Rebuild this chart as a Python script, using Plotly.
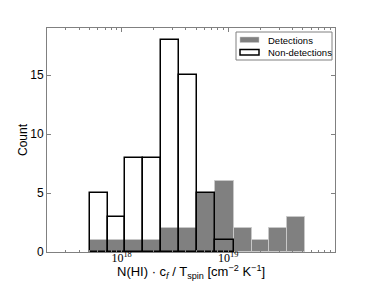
import numpy as np
import plotly.graph_objects as go

# bin edges (log10 of N(HI)*cf/Tspin)
bin_edges_log = [17.70, 17.87, 18.03, 18.20, 18.37, 18.54, 18.71, 18.88, 19.05, 19.22, 19.38, 19.55, 19.72]
detections = [1, 1, 1, 1, 2, 2, 5, 6, 2, 1, 2, 3]
non_detections = [5, 3, 8, 8, 18, 15, 5, 1, 0, 0, 0, 0]
major_tick_vals = [18, 19]
major_tick_text = ["10<sup>18</sup>", "10<sup>19</sup>"]
series_names = ["Detections", "Non-detections"]

edges = np.array(bin_edges_log)
centers = (edges[:-1] + edges[1:]) / 2
widths = np.diff(edges)

minor_vals = [np.log10(m) + d for d in (17, 18, 19) for m in range(2, 10)]
minor_vals = [v for v in minor_vals if 17.30 < v < 20.0]

GRAY = "rgb(128,128,128)"
GRAY_EDGE = "rgb(200,200,200)"
FRAME = "rgb(128,128,128)"

fig = go.Figure()
fig.add_trace(go.Bar(
    x=centers, y=[v if v > 0 else None for v in detections], width=widths, name=series_names[0],
    marker=dict(color=GRAY, line=dict(color=GRAY_EDGE, width=1)),
))
fig.add_trace(go.Bar(
    x=centers, y=[v if v > 0 else None for v in non_detections], width=widths, name=series_names[1],
    marker=dict(color="rgba(255,255,255,0)", line=dict(color="black", width=1.5)),
))

axis_common = dict(
    showline=True, mirror="ticks", linecolor=FRAME, linewidth=1, automargin=False,
    ticks="inside", tickcolor=FRAME, showgrid=False, zeroline=False,
)

# plot area geometry in px (for paper-coord conversion of legend elements)
L, R, T, B, W, H = 47, 39, 28, 31, 374, 283
pw, ph = W - L - R, H - T - B
px = lambda x: (x - L) / pw
py = lambda y: (H - B - y) / ph

shapes = [
    dict(type="rect", xref="paper", yref="paper", x0=px(236), x1=px(332), y0=py(60), y1=py(32),
         line=dict(color=FRAME, width=1), fillcolor="white", layer="above"),
    dict(type="rect", xref="paper", yref="paper", x0=px(240), x1=px(259), y0=py(42.5), y1=py(37),
         line=dict(color=GRAY_EDGE, width=0.5), fillcolor=GRAY, layer="above"),
    dict(type="rect", xref="paper", yref="paper", x0=px(240), x1=px(259), y0=py(55), y1=py(49.5),
         line=dict(color="black", width=1.5), fillcolor="white", layer="above"),
]
annotations = [
    dict(text=series_names[0], xref="paper", yref="paper", x=px(265.5), y=py(40), xanchor="left",
         yanchor="middle", showarrow=False, font=dict(size=9.5)),
    dict(text=series_names[1], xref="paper", yref="paper", x=px(265.5), y=py(52.5), xanchor="left",
         yanchor="middle", showarrow=False, font=dict(size=9.5)),
    dict(text="N(HI) · c<sub><i>f</i></sub> / T<sub>spin</sub> [cm<sup>−2</sup> K<sup>−1</sup>]",
         xref="paper", yref="paper", x=px(191), y=py(272), xanchor="center", yanchor="middle",
         showarrow=False, font=dict(size=13)),
]

fig.update_layout(
    width=W, height=H, autosize=False,
    margin=dict(l=L, r=R, t=T, b=B, pad=0, autoexpand=False),
    paper_bgcolor="white", plot_bgcolor="white",
    barmode="overlay", bargap=0,
    font=dict(family="Liberation Sans, Arial, sans-serif", size=12, color="black"),
    showlegend=False,
    shapes=shapes, annotations=annotations,
    xaxis=dict(
        range=[np.log10(2e17), 20.0],
        tickvals=major_tick_vals, ticktext=major_tick_text, ticklen=4,
        ticklabelstandoff=-5,
        tickfont=dict(family="Liberation Serif, DejaVu Serif, serif", size=12),
        minor=dict(tickvals=minor_vals, ticks="inside", ticklen=2, tickcolor=FRAME),
        **axis_common,
    ),
    yaxis=dict(
        range=[0, 19], tickvals=[0, 5, 10, 15], ticklen=4,
        tickfont=dict(size=12),
        title=dict(text="Count", font=dict(size=12), standoff=0),
        **axis_common,
    ),
)

fig.write_html(
    "out.html",
    config={"displayModeBar": False},
    post_script="document.body.style.margin='0px';document.body.style.overflow='hidden';",
)
